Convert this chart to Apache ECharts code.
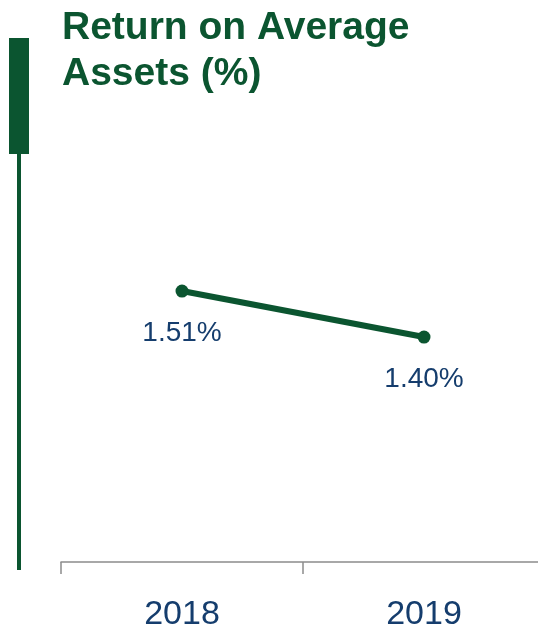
<!DOCTYPE html>
<html>
<head>
<meta charset="utf-8">
<script src="https://cdn.jsdelivr.net/npm/echarts@6/dist/echarts.min.js"></script>
<style>html,body{margin:0;padding:0;background:#fff;}#c{width:538px;height:630px;}</style>
</head>
<body>
<div id="c"></div>
<script>
const categories = ['2018', '2019'];
const roaValues = [1.51, 1.40];
const titleText = 'Return on Average\nAssets (%)';

const green = '#0b5530';
const navy = '#153d6d';
const chart = echarts.init(document.getElementById('c'), null, {renderer: 'canvas'});
chart.setOption({
  animation: false,
  backgroundColor: '#ffffff',
  title: {
    text: titleText,
    left: 57, top: 0,
    textStyle: {fontFamily: 'Liberation Sans, Arial, sans-serif', fontWeight: 'bold', fontSize: 39, lineHeight: 46, color: green}
  },
  graphic: [
    {type: 'rect', shape: {x: 9, y: 38, width: 20, height: 116}, style: {fill: green}},
    {type: 'rect', shape: {x: 17, y: 150, width: 4, height: 420}, style: {fill: green}}
  ],
  grid: {left: 61, width: 484, top: 100, height: 462, containLabel: false, outerBoundsMode: 'none'},
  xAxis: {
    type: 'category',
    data: categories,
    boundaryGap: true,
    axisLine: {lineStyle: {color: '#8c8c8c', width: 1.5}},
    axisTick: {show: true, length: 12, alignWithLabel: false, lineStyle: {color: '#8c8c8c', width: 1.5}},
    axisLabel: {color: navy, fontSize: 34, fontFamily: 'Liberation Sans, Arial, sans-serif', margin: 36}
  },
  yAxis: {
    type: 'value', min: 0.862, max: 1.967, show: false, splitLine: {show: false}
  },
  series: [{
    type: 'line',
    data: roaValues,
    symbol: 'circle',
    symbolSize: 13,
    lineStyle: {color: green, width: 6},
    itemStyle: {color: green},
    label: {
      show: true, position: 'bottom', distance: 22,
      formatter: p => p.value.toFixed(2) + '%',
      color: navy, fontSize: 28, fontFamily: 'Liberation Sans, Arial, sans-serif'
    }
  }]
});
</script>
</body>
</html>
